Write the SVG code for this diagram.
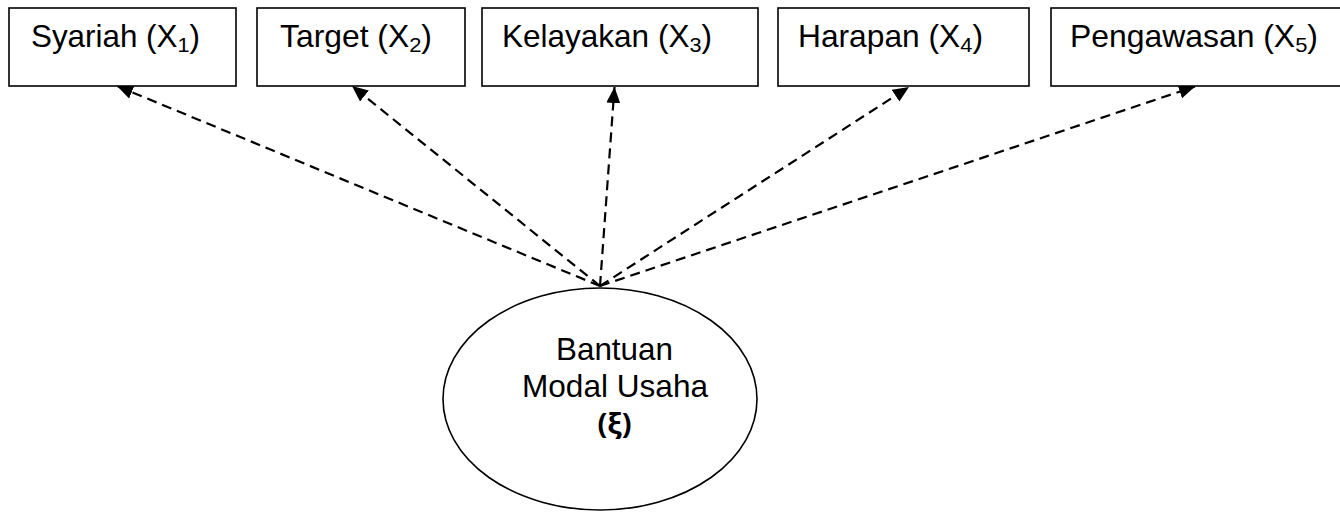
<svg xmlns="http://www.w3.org/2000/svg" width="1340" height="514" viewBox="0 0 1340 514">
<style>
.box{fill:#fff;stroke:#000;stroke-width:1.6}
.lbl{font-family:"Liberation Sans",Arial,sans-serif;font-size:30.5px;fill:#000}
.sub{font-size:21px}
.conn{fill:none;stroke:#000;stroke-width:2.2;stroke-dasharray:10 6}
.ell{fill:#fff;stroke:#000;stroke-width:1.6}
.bold{font-family:"Open Sans","Noto Sans",sans-serif;font-size:29px;font-weight:bold;fill:#000}
</style>
<defs>
<marker id="ah" viewBox="0 -8 16 16" refX="16" refY="0" markerWidth="16" markerHeight="16" markerUnits="userSpaceOnUse" orient="auto">
<path d="M0,-7 L16,0 L0,7 z" fill="#000"/>
</marker>
</defs>
<g id="connectors">
<line class="conn" x1="600" y1="286" x2="117" y2="86" marker-end="url(#ah)"/>
<line class="conn" x1="600" y1="286" x2="352" y2="86" marker-end="url(#ah)"/>
<line class="conn" x1="600" y1="286" x2="614.5" y2="87" marker-end="url(#ah)"/>
<line class="conn" x1="600" y1="286" x2="909" y2="87" marker-end="url(#ah)"/>
<line class="conn" x1="600" y1="286" x2="1195" y2="86.5" marker-end="url(#ah)"/>
</g>
<g id="x1">
<rect class="box" x="9" y="8" width="227" height="78"/>
<text class="lbl" x="31" y="47" textLength="169" lengthAdjust="spacingAndGlyphs">Syariah (X<tspan class="sub" dy="5">1</tspan><tspan dy="-5">)</tspan></text>
</g>
<g id="x2">
<rect class="box" x="257" y="8" width="208" height="78"/>
<text class="lbl" x="280" y="47" textLength="152" lengthAdjust="spacingAndGlyphs">Target (X<tspan class="sub" dy="5">2</tspan><tspan dy="-5">)</tspan></text>
</g>
<g id="x3">
<rect class="box" x="482" y="8" width="276" height="78"/>
<text class="lbl" x="502" y="47" textLength="210" lengthAdjust="spacingAndGlyphs">Kelayakan (X<tspan class="sub" dy="5">3</tspan><tspan dy="-5">)</tspan></text>
</g>
<g id="x4">
<rect class="box" x="778" y="8" width="251" height="78"/>
<text class="lbl" x="798" y="47" textLength="185" lengthAdjust="spacingAndGlyphs">Harapan (X<tspan class="sub" dy="5">4</tspan><tspan dy="-5">)</tspan></text>
</g>
<g id="x5">
<rect class="box" x="1051" y="8" width="300" height="78"/>
<text class="lbl" x="1070" y="47" textLength="248" lengthAdjust="spacingAndGlyphs">Pengawasan (X<tspan class="sub" dy="5">5</tspan><tspan dy="-5">)</tspan></text>
</g>
<g id="xi">
<ellipse class="ell" cx="600" cy="399" rx="157" ry="111"/>
<text class="lbl" x="614.5" y="360" text-anchor="middle" textLength="117" lengthAdjust="spacingAndGlyphs">Bantuan</text>
<text class="lbl" x="615" y="397" text-anchor="middle" textLength="186" lengthAdjust="spacingAndGlyphs">Modal Usaha</text>
<text class="bold" x="614.5" y="434" text-anchor="middle">(ξ)</text>
</g>
</svg>
